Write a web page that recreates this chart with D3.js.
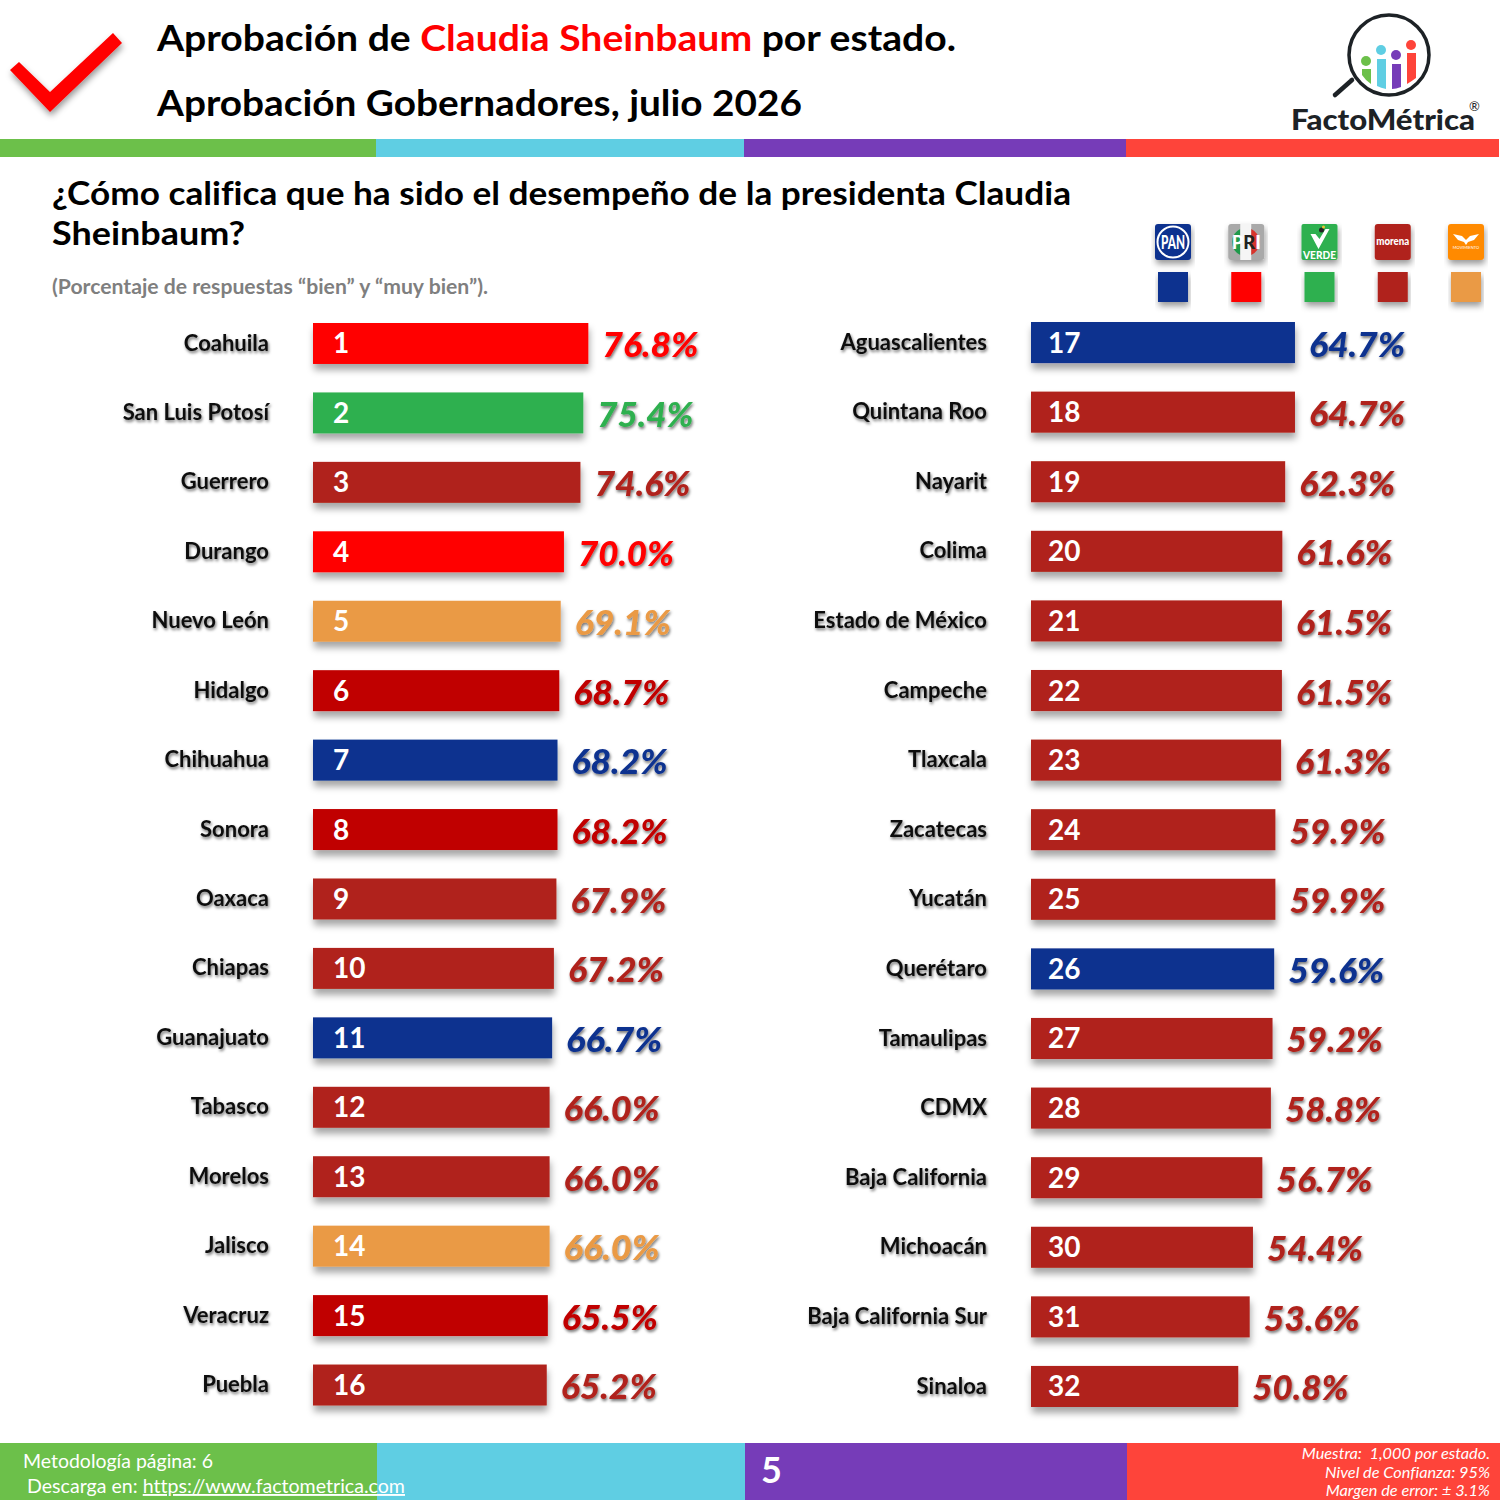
<!DOCTYPE html>
<html lang="es">
<head>
<meta charset="utf-8">
<title>Aprobación por estado</title>
<script src="https://cdn.jsdelivr.net/npm/d3@7"></script>
<style>
	html, body { margin: 0; padding: 0; background: #fff; }
	svg { display: block; }
	text { font-family: Lato, "Open Sans", sans-serif; font-variant-ligatures: none; }
</style>
</head>
<body>
<script>
var estadosIzq = ["Coahuila","San Luis Potosí","Guerrero","Durango","Nuevo León","Hidalgo","Chihuahua","Sonora","Oaxaca","Chiapas","Guanajuato","Tabasco","Morelos","Jalisco","Veracruz","Puebla"];
var valoresIzq = [76.8,75.4,74.6,70.0,69.1,68.7,68.2,68.2,67.9,67.2,66.7,66.0,66.0,66.0,65.5,65.2];
var partidosIzq = ["PRI","VERDE","MORENA","PRI","MC","PT","PAN","PT","MORENA","MORENA","PAN","MORENA","MORENA","MC","PT","MORENA"];

var estadosDer = ["Aguascalientes","Quintana Roo","Nayarit","Colima","Estado de México","Campeche","Tlaxcala","Zacatecas","Yucatán","Querétaro","Tamaulipas","CDMX","Baja California","Michoacán","Baja California Sur","Sinaloa"];
var valoresDer = [64.7,64.7,62.3,61.6,61.5,61.5,61.3,59.9,59.9,59.6,59.2,58.8,56.7,54.4,53.6,50.8];
var partidosDer = ["PAN","MORENA","MORENA","MORENA","MORENA","MORENA","MORENA","MORENA","MORENA","PAN","MORENA","MORENA","MORENA","MORENA","MORENA","MORENA"];

var colores = {PAN:"#0b318f", PRI:"#ff0000", VERDE:"#2fb04f", MORENA:"#b0241c", MC:"#ea9a45", PT:"#c00000"};
var leyenda = ["PAN","PRI","VERDE","MORENA","MC"];

var franjas = ["#6cc04a","#5fcee3","#763cb8","#fe443a"];

var svg = d3.select("body").append("svg").attr("width",1500).attr("height",1500);
var defs = svg.append("defs");

function sombra(id, dy, blur, op) {
	defs.append("filter").attr("id",id)
		.attr("x","-10%").attr("y","-30%").attr("width","120%").attr("height","170%")
		.append("feDropShadow")
		.attr("dx",1).attr("dy",dy).attr("stdDeviation",blur)
		.attr("flood-color","#000").attr("flood-opacity",op);
}
sombra("sBarra",6,3.5,0.35);
sombra("sTexto",2,1.8,0.55);
sombra("sIcono",4,3,0.4);

// franjas de arriba y de abajo
function franja(y, h, cortes) {
	svg.append("g").selectAll("rect").data(franjas).enter().append("rect")
		.attr("x",function(d,i){return cortes[i];})
		.attr("y",y)
		.attr("width",function(d,i){return cortes[i+1]-cortes[i];})
		.attr("height",h)
		.attr("fill",function(d){return d;});
}
franja(139,18,[0,376,744,1126,1499]);
franja(1443,57,[0,377,745,1127,1500]);

// palomita
svg.append("path")
	.attr("d","M113,33 L122,43 L50,112 L10,70 L19,62 L50,92 Z")
	.attr("fill","#f00")
	.attr("filter","url(#sIcono)");

// titulos
var t1 = svg.append("text").attr("x",157).attr("y",51)
	.attr("font-size",37).attr("font-weight",700).attr("fill","#000")
	.attr("textLength",799).attr("lengthAdjust","spacingAndGlyphs");
t1.append("tspan").text("Aprobación de ");
t1.append("tspan").attr("fill","#f00").text("Claudia Sheinbaum");
t1.append("tspan").text(" por estado.");

svg.append("text").attr("x",157).attr("y",116)
	.attr("font-size",37).attr("font-weight",700).attr("fill","#000")
	.attr("textLength",645).attr("lengthAdjust","spacingAndGlyphs")
	.text("Aprobación Gobernadores, julio 2026");

svg.append("text").attr("x",52).attr("y",205)
	.attr("font-size",33).attr("font-weight",700).attr("fill","#000")
	.attr("textLength",1019).attr("lengthAdjust","spacingAndGlyphs")
	.text("¿Cómo califica que ha sido el desempeño de la presidenta Claudia");
svg.append("text").attr("x",52).attr("y",245)
	.attr("font-size",33).attr("font-weight",700).attr("fill","#000")
	.attr("textLength",193).attr("lengthAdjust","spacingAndGlyphs")
	.text("Sheinbaum?");
svg.append("text").attr("x",52).attr("y",294)
	.attr("font-size",20).attr("font-weight",700).attr("fill","#7f7f7f")
	.attr("textLength",436).attr("lengthAdjust","spacingAndGlyphs")
	.text("(Porcentaje de respuestas “bien” y “muy bien”).");

// logo
var logo = svg.append("g");
logo.append("circle").attr("cx",1389).attr("cy",55).attr("r",40)
	.attr("fill","none").attr("stroke","#1d2226").attr("stroke-width",3.5);
logo.append("line").attr("x1",1352).attr("y1",80).attr("x2",1335).attr("y2",95)
	.attr("stroke","#1d2226").attr("stroke-width",4.5).attr("stroke-linecap","round");
logo.append("circle").attr("cx",1366).attr("cy",61).attr("r",5).attr("fill",franjas[0]);
logo.append("path").attr("d","M1362,69 H1371 V84 Q1366,81 1362,75 Z").attr("fill",franjas[0]);
logo.append("circle").attr("cx",1381).attr("cy",50).attr("r",5).attr("fill",franjas[1]);
logo.append("path").attr("d","M1377,59 H1386 V89 Q1381,88 1377,86 Z").attr("fill",franjas[1]);
logo.append("circle").attr("cx",1396).attr("cy",55).attr("r",5).attr("fill",franjas[2]);
logo.append("path").attr("d","M1392,64 H1401 V87 Q1396,89 1392,89 Z").attr("fill",franjas[2]);
logo.append("circle").attr("cx",1411).attr("cy",45).attr("r",5).attr("fill",franjas[3]);
logo.append("path").attr("d","M1407,53 H1416 V78 Q1412,81 1407,84 Z").attr("fill",franjas[3]);
logo.append("text").attr("x",1291).attr("y",130)
	.attr("font-size",29).attr("font-weight",900).attr("fill","#1d2226")
	.attr("textLength",184).attr("lengthAdjust","spacingAndGlyphs").text("FactoMétrica");
logo.append("text").attr("x",1469).attr("y",111)
	.attr("font-size",13).attr("fill","#1d2226").text("®");

// leyenda de partidos
var xLey = d3.scalePoint().domain(leyenda).range([1173,1466]);
var ley = svg.append("g").selectAll("g").data(leyenda).enter().append("g")
	.attr("transform",function(d){return "translate("+xLey(d)+",0)";});
ley.append("rect").attr("x",-15).attr("y",272).attr("width",30).attr("height",30)
	.attr("fill",function(d){return colores[d];})
	.attr("filter","url(#sIcono)");

function icono(partido, fondo, r) {
	var g = ley.filter(function(d){return d===partido;});
	g.append("rect").attr("x",-18).attr("y",224).attr("width",36).attr("height",36).attr("rx",r)
		.attr("fill",fondo).attr("filter","url(#sIcono)");
	return g;
}
var gPan = icono("PAN","#0b318f",3);
gPan.append("circle").attr("cy",242).attr("r",15.5).attr("fill","none").attr("stroke","#fff").attr("stroke-width",2);
gPan.append("text").attr("y",249).attr("text-anchor","middle").attr("font-size",19).attr("font-weight",900)
	.attr("fill","#fff").attr("textLength",24).attr("lengthAdjust","spacingAndGlyphs").text("PAN");

var gPri = icono("PRI","#a9a9a9",3);
gPri.append("path").attr("d","M-6,229 A14.5,14.5 0 0 0 -6,255 Z").attr("fill","#1f9a4b");
gPri.append("rect").attr("x",-6).attr("y",224).attr("width",11).attr("height",36).attr("fill","#f5f5f5");
gPri.append("path").attr("d","M5,229 A14.5,14.5 0 0 1 5,255 Z").attr("fill","#d8342c");
var priTxt = gPri.append("text").attr("y",249).attr("text-anchor","middle").attr("font-size",18).attr("font-weight",900)
	.attr("fill","#fff").attr("textLength",29).attr("lengthAdjust","spacingAndGlyphs");
priTxt.append("tspan").text("P");
priTxt.append("tspan").attr("fill","#222").text("R");
priTxt.append("tspan").text("I");

var gVer = icono("VERDE","#2fb04f",2);
gVer.append("path").attr("d","M-9,234 L-1,249 L10,229 L6,229 L0,239 L-4,234 Z").attr("fill","#fff");
gVer.append("circle").attr("cx",2).attr("cy",230).attr("r",2.5).attr("fill","#222");
gVer.append("circle").attr("cx",4).attr("cy",227).attr("r",1.5).attr("fill","#f2c230");
gVer.append("text").attr("y",259).attr("text-anchor","middle").attr("font-size",11.5).attr("font-weight",900)
	.attr("fill","#fff").attr("textLength",33).attr("lengthAdjust","spacingAndGlyphs").text("VERDE");

var gMor = icono("MORENA","#b0241c",3);
gMor.append("text").attr("y",245).attr("text-anchor","middle").attr("font-size",11.5).attr("font-weight",900)
	.attr("fill","#fff").attr("textLength",33).attr("lengthAdjust","spacingAndGlyphs").text("morena");

var gMc = icono("MC","#ff8a00",3);
gMc.append("path").attr("d","M-13,234 L-4,236 L0,240 L4,236 L13,234 L8,240 L2,242 L0,245 L-2,242 L-8,240 Z").attr("fill","#fff");
gMc.append("text").attr("y",249).attr("text-anchor","middle").attr("font-size",4).attr("fill","#fff").text("MOVIMIENTO");

// una columna de barras: escalas, eje de estados, barras y etiquetas
function columna(clase, estados, valores, partidos, x0, kx, yTop, yFin, primero) {
	var filas = estados.map(function(e,i){
		return {estado:e, valor:valores[i], partido:partidos[i], lugar:primero+i};
	});
	var x = d3.scaleLinear().domain([0,100]).range([x0,x0+kx*100]);
	var y = d3.scaleBand().domain(estados).range([yTop,yFin]).paddingInner(0.41).paddingOuter(0);

	var g = svg.append("g").attr("class",clase);

	var eje = d3.axisLeft(y).tickSize(0).tickPadding(0);
	var gEje = g.append("g").attr("transform","translate("+(x0-44)+",0)").call(eje);
	gEje.select(".domain").remove();
	gEje.selectAll("text")
		.attr("font-size",22).attr("font-weight",700).attr("fill","#111")
		.attr("style","font-family:Lato,sans-serif")
		.attr("filter","url(#sTexto)");

	g.selectAll("rect.barra").data(filas).enter().append("rect")
		.attr("class","barra")
		.attr("x",x0)
		.attr("y",function(d){return y(d.estado);})
		.attr("width",function(d){return x(d.valor)-x0;})
		.attr("height",y.bandwidth())
		.attr("fill",function(d){return colores[d.partido];})
		.attr("filter","url(#sBarra)");

	g.selectAll("text.lugar").data(filas).enter().append("text")
		.attr("class","lugar")
		.attr("x",x0+(clase==="izq"?20:17))
		.attr("y",function(d){return y(d.estado)+y.bandwidth()/2+10;})
		.attr("font-size",28).attr("font-weight",700).attr("fill","#fff")
		.text(function(d){return d.lugar;});

	g.selectAll("text.valor").data(filas).enter().append("text")
		.attr("class","valor")
		.attr("x",function(d){return x(d.valor)+14;})
		.attr("y",function(d){return y(d.estado)+y.bandwidth()/2+14;})
		.attr("font-size",35).attr("font-weight",900).attr("font-style","italic")
		.attr("fill",function(d){return colores[d.partido];})
		.attr("textLength",96).attr("lengthAdjust","spacingAndGlyphs")
		.attr("filter","url(#sTexto)")
		.text(function(d){return d.valor.toFixed(1)+"%";});
}
columna("izq",estadosIzq,valoresIzq,partidosIzq,313,3.585,323,1405.5,1);
columna("der",estadosDer,valoresDer,partidosDer,1031,4.08,322,1407,17);

// pie
svg.append("text").attr("x",23).attr("y",1468).attr("font-size",19).attr("fill","#fff")
	.attr("textLength",190).attr("lengthAdjust","spacingAndGlyphs").text("Metodología página: 6");
var pie = svg.append("text").attr("x",27).attr("y",1493).attr("font-size",19).attr("fill","#fff");
pie.append("tspan").text("Descarga en: ");
pie.append("tspan").attr("text-decoration","underline").text("https://www.factometrica.com");
pie.attr("textLength",378).attr("lengthAdjust","spacingAndGlyphs");

svg.append("text").attr("x",761).attr("y",1483).attr("font-size",36).attr("font-weight",700).attr("fill","#fff").text("5");

var notas = ["Muestra:  1,000 por estado.","Nivel de Confianza: 95%","Margen de error: ± 3.1%"];
svg.append("g").selectAll("text").data(notas).enter().append("text")
	.attr("x",1490)
	.attr("y",function(d,i){return 1459+i*18.5;})
	.attr("text-anchor","end").attr("font-size",16.3).attr("font-style","italic").attr("fill","#fff")
	.attr("xml:space","preserve")
	.text(function(d){return d;});
</script>
</body>
</html>
